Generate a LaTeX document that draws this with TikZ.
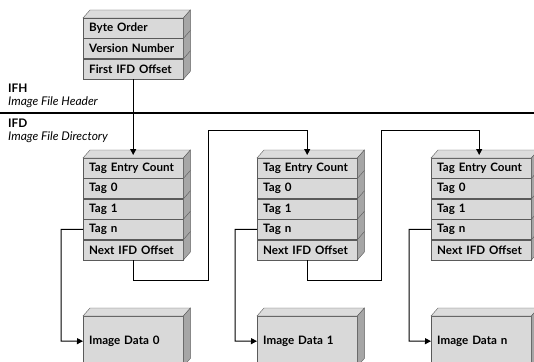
\documentclass[tikz,border=0pt]{standalone}
\usepackage{fontspec}
\setmainfont{Lato}
\usetikzlibrary{positioning, calc, arrows.meta}

\definecolor{facegray}{HTML}{D9D9D9}
\definecolor{topgray}{HTML}{DCDCDC}
\definecolor{sidegray}{HTML}{A6A6A6}
\definecolor{edgegray}{HTML}{5A5A5A}

\tikzset{
  cell/.style={draw=edgegray, fill=facegray, minimum height=20pt, inner xsep=6pt,
    inner ysep=0pt, text width=88pt, align=left,
    font=\bfseries\fontsize{11.6}{13}\selectfont},
  datacell/.style={cell, minimum height=50pt},
  topface/.style={draw=edgegray, fill=topgray},
  sideface/.style={draw=edgegray, fill=sidegray},
  link/.style={draw, line width=1pt, -{Triangle[length=6pt,width=6pt]}},
  caption/.style={anchor=west, inner sep=0pt},
  capbold/.style={caption, font=\bfseries\fontsize{11.8}{13}\selectfont},
  capital/.style={caption, font=\itshape\fontsize{12}{13}\selectfont},
}

% 3D top and side of a stack: #1 top cell, #2 bottom cell
\newcommand{\slab}[2]{
  \draw[topface] (#1.north west) -- ++(7,-8) -- ($(#1.north east)+(7,-8)$) -- (#1.north east) -- cycle;
  \draw[sideface] (#1.north east) -- ++(7,-8) -- ($(#2.south east)+(7,-8)$) -- (#2.south east) -- cycle;
}

\begin{document}
\begin{tikzpicture}[x=1pt,y=-1pt]
  \clip (0,0) rectangle (534,361);

  % image file header
  \node[cell, anchor=north west] (bo) at (83,18) {Byte Order};
  \node[cell, below=0pt of bo] (vn) {Version Number};
  \node[cell, below=0pt of vn] (fo) {First IFD Offset};
  \slab{bo}{fo}
  \foreach \r in {bo,vn} \draw[edgegray] (\r.south east) -- ++(7,-8);

  \node[capbold] (ifh) at (8,88) {IFH};
  \node[capital] (ifhx) at (8,102) {Image File Header};
  \draw[line width=2pt] (0,113) -- (534,113);
  \node[capbold] (ifd) at (8,123) {IFD};
  \node[capital] (ifdx) at (8,137) {Image File Directory};

  % image file directories
  \foreach \n/\x/\d in {A/83/0, B/257/1, C/431/n} {
    \node[cell, anchor=north west] (tc\n) at (\x,158) {Tag Entry Count};
    \node[cell, below=0pt of tc\n] (tz\n) {Tag 0};
    \node[cell, below=0pt of tz\n] (to\n) {Tag 1};
    \node[cell, below=0pt of to\n] (tn\n) {Tag n};
    \node[cell, below=0pt of tn\n] (nx\n) {Next IFD Offset};
    \slab{tc\n}{nx\n}
    \foreach \r in {tc,tz,to,tn} \draw[edgegray] (\r\n.south east) -- ++(7,-8);

    \node[datacell, anchor=north west] (img\n) at (\x,316) {Image Data \d};
    \slab{img\n}{img\n}
    \coordinate (drop\n) at ($(\x,341)+(-22,0)$);
    \draw[link] (tn\n.west) -| (drop\n) -- (img\n.west);
  }

  \coordinate (turnA) at (208,280);
  \coordinate (riseA) at (208,130);
  \coordinate (turnB) at (381,280);
  \coordinate (riseB) at (381,130);

  \draw[link] (fo.south) -- ($(tcA.north)+(0,-3)$);
  \draw[link] (nxA.south) |- (turnA) -- (riseA) -| ($(tcB.north)+(0,-3)$);
  \draw[link] (nxB.south) |- (turnB) -- (riseB) -| ($(tcC.north)+(-2,-3)$);
\end{tikzpicture}
\end{document}
